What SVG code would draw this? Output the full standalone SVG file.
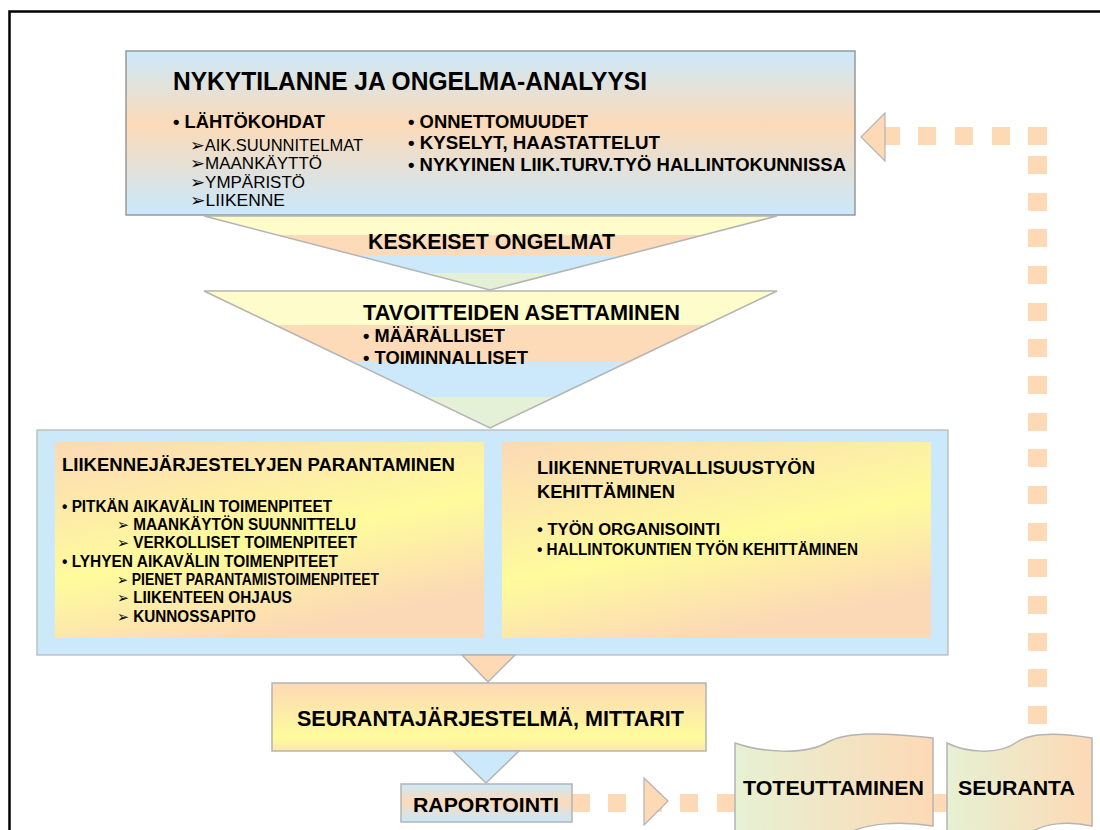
<svg xmlns="http://www.w3.org/2000/svg" width="1100" height="830" viewBox="0 0 1100 830">
<defs>
<style>
.t{font-family:"Liberation Sans",Arial,sans-serif;font-weight:bold;fill:#000}
.r{font-family:"Liberation Sans",Arial,sans-serif;fill:#000}
.ar{font-family:"DejaVu Sans",sans-serif}
.bd{stroke:#b4b4b4;stroke-width:1.5}
.sq{fill:#fdd9b5}
</style>
<linearGradient id="gTop" x1="0" y1="0" x2="0" y2="1">
<stop offset="0" stop-color="#cbe9fb"/><stop offset="0.45" stop-color="#fcdab8"/><stop offset="1" stop-color="#c9e8fc"/>
</linearGradient>
<linearGradient id="gMid" x1="0" y1="0" x2="0.45" y2="1">
<stop offset="0" stop-color="#fcd9b6"/><stop offset="0.6" stop-color="#fefb9c"/><stop offset="1" stop-color="#fcd9b6"/>
</linearGradient>
<linearGradient id="gSeu" x1="0" y1="0" x2="0" y2="1">
<stop offset="0" stop-color="#fcd9b6"/><stop offset="0.8" stop-color="#fefb9c"/><stop offset="1" stop-color="#fde6ac"/>
</linearGradient>
<linearGradient id="gBan" x1="0" y1="0" x2="1" y2="0">
<stop offset="0" stop-color="#e6f1d3"/><stop offset="1" stop-color="#fdd9b5"/>
</linearGradient>
<clipPath id="c1"><polygon points="204,216 777,216 490,290"/></clipPath>
<clipPath id="c2"><polygon points="204,291 777,291 490,428"/></clipPath>
</defs>
<rect width="1100" height="830" fill="#fff"/>
<path d="M9.5,840 V11.5 H1110" fill="none" stroke="#000" stroke-width="2.5"/>

<g id="connectors">
<g class="sq">
<rect x="572" y="794" width="18" height="18"/><rect x="608" y="794" width="18" height="18"/><rect x="644" y="794" width="18" height="18"/><rect x="680" y="794" width="18" height="18"/><rect x="717" y="794" width="18" height="18"/><rect x="930" y="794" width="18" height="18"/>
<rect x="1028" y="156" width="19" height="18"/><rect x="1028" y="193" width="19" height="18"/><rect x="1028" y="229" width="19" height="18"/><rect x="1028" y="266" width="19" height="18"/><rect x="1028" y="303" width="19" height="18"/><rect x="1028" y="339" width="19" height="18"/><rect x="1028" y="376" width="19" height="18"/><rect x="1028" y="413" width="19" height="18"/><rect x="1028" y="449" width="19" height="18"/><rect x="1028" y="486" width="19" height="18"/><rect x="1028" y="523" width="19" height="18"/><rect x="1028" y="559" width="19" height="18"/><rect x="1028" y="596" width="19" height="18"/><rect x="1028" y="633" width="19" height="18"/><rect x="1028" y="669" width="19" height="18"/><rect x="1028" y="706" width="19" height="18"/>
<rect x="1028" y="127" width="19" height="18"/><rect x="992" y="127" width="18" height="18"/><rect x="955" y="127" width="18" height="18"/><rect x="918" y="127" width="18" height="18"/><rect x="882" y="127" width="18" height="18"/>
</g>
<polygon points="644,778 668,801 644,825" fill="#fdd9b5" stroke="#b4b4b4" stroke-width="1.2"/>
<polygon points="885,113 861,137 885,161" fill="#fdd9b5" stroke="#b4b4b4" stroke-width="1.2"/>
</g>

<g id="analyysi">
<rect x="126" y="51" width="729" height="164" fill="url(#gTop)" stroke="#999" stroke-width="1.5"/>
<text class="t" x="173" y="90" font-size="26" textLength="474" lengthAdjust="spacingAndGlyphs">NYKYTILANNE JA ONGELMA-ANALYYSI</text>
<text class="t" x="173" y="128" font-size="19" textLength="152" lengthAdjust="spacingAndGlyphs">• LÄHTÖKOHDAT</text>
<text class="r" x="190" y="151" font-size="16" textLength="173" lengthAdjust="spacingAndGlyphs"><tspan class="ar" font-size="17">➢</tspan>AIK.SUUNNITELMAT</text>
<text class="r" x="190" y="169" font-size="16" textLength="132" lengthAdjust="spacingAndGlyphs"><tspan class="ar" font-size="17">➢</tspan>MAANKÄYTTÖ</text>
<text class="r" x="190" y="188" font-size="16" textLength="115" lengthAdjust="spacingAndGlyphs"><tspan class="ar" font-size="17">➢</tspan>YMPÄRISTÖ</text>
<text class="r" x="190" y="206" font-size="16" textLength="95" lengthAdjust="spacingAndGlyphs"><tspan class="ar" font-size="17">➢</tspan>LIIKENNE</text>
<text class="t" x="408" y="128" font-size="19" textLength="180" lengthAdjust="spacingAndGlyphs">• ONNETTOMUUDET</text>
<text class="t" x="408" y="149" font-size="19" textLength="252" lengthAdjust="spacingAndGlyphs">• KYSELYT, HAASTATTELUT</text>
<text class="t" x="408" y="171" font-size="19" textLength="438" lengthAdjust="spacingAndGlyphs">• NYKYINEN LIIK.TURV.TYÖ HALLINTOKUNNISSA</text>
</g>

<g id="ongelmat">
<g clip-path="url(#c1)">
<rect x="200" y="216" width="580" height="19" fill="#fefccb"/>
<rect x="200" y="235" width="580" height="20" fill="#fddbb8"/>
<rect x="200" y="255" width="580" height="18" fill="#cce9fb"/>
<rect x="200" y="273" width="580" height="18" fill="#e5f1d6"/>
</g>
<polygon points="204,216 777,216 490,290" fill="none" class="bd" stroke-width="1.2"/>
<text class="t" x="368" y="249" font-size="22" textLength="247" lengthAdjust="spacingAndGlyphs">KESKEISET ONGELMAT</text>
</g>

<g id="tavoitteet">
<g clip-path="url(#c2)">
<rect x="200" y="291" width="580" height="34" fill="#fefccb"/>
<rect x="200" y="325" width="580" height="37" fill="#fddbb8"/>
<rect x="200" y="362" width="580" height="35" fill="#cce9fb"/>
<rect x="200" y="397" width="580" height="32" fill="#e5f1d6"/>
</g>
<polygon points="204,291 777,291 490,428" fill="none" class="bd" stroke-width="1.2"/>
<text class="t" x="363" y="320" font-size="22" textLength="317" lengthAdjust="spacingAndGlyphs">TAVOITTEIDEN ASETTAMINEN</text>
<text class="t" x="363" y="342" font-size="19" textLength="142" lengthAdjust="spacingAndGlyphs">• MÄÄRÄLLISET</text>
<text class="t" x="363" y="364" font-size="19" textLength="165" lengthAdjust="spacingAndGlyphs">• TOIMINNALLISET</text>
</g>

<g id="toimenpiteet">
<rect x="37" y="430" width="911" height="225" fill="#cce9fb" stroke="#b4b4b4" stroke-width="1.2"/>
</g>

<g id="parantaminen">
<rect x="55" y="442" width="429" height="196" fill="url(#gMid)"/>
<text class="t" x="62" y="471" font-size="19" textLength="393" lengthAdjust="spacingAndGlyphs">LIIKENNEJÄRJESTELYJEN PARANTAMINEN</text>
<text class="t" x="62" y="512" font-size="16" textLength="270" lengthAdjust="spacingAndGlyphs">• PITKÄN AIKAVÄLIN TOIMENPITEET</text>
<text class="t" x="117" y="530" font-size="16" textLength="239" lengthAdjust="spacingAndGlyphs"><tspan class="ar" font-size="15">➢</tspan> MAANKÄYTÖN SUUNNITTELU</text>
<text class="t" x="117" y="548" font-size="16" textLength="240" lengthAdjust="spacingAndGlyphs"><tspan class="ar" font-size="15">➢</tspan> VERKOLLISET TOIMENPITEET</text>
<text class="t" x="62" y="567" font-size="16" textLength="276" lengthAdjust="spacingAndGlyphs">• LYHYEN AIKAVÄLIN TOIMENPITEET</text>
<text class="t" x="117" y="585" font-size="16" textLength="262" lengthAdjust="spacingAndGlyphs"><tspan class="ar" font-size="15">➢</tspan> PIENET PARANTAMISTOIMENPITEET</text>
<text class="t" x="117" y="603" font-size="16" textLength="175" lengthAdjust="spacingAndGlyphs"><tspan class="ar" font-size="15">➢</tspan> LIIKENTEEN OHJAUS</text>
<text class="t" x="117" y="622" font-size="16" textLength="139" lengthAdjust="spacingAndGlyphs"><tspan class="ar" font-size="15">➢</tspan> KUNNOSSAPITO</text>
</g>

<g id="kehittaminen">
<rect x="502" y="442" width="429" height="196" fill="url(#gMid)"/>
<text class="t" x="537" y="474" font-size="19" textLength="278" lengthAdjust="spacingAndGlyphs">LIIKENNETURVALLISUUSTYÖN</text>
<text class="t" x="537" y="498" font-size="19" textLength="138" lengthAdjust="spacingAndGlyphs">KEHITTÄMINEN</text>
<text class="t" x="537" y="535" font-size="16" textLength="183" lengthAdjust="spacingAndGlyphs">• TYÖN ORGANISOINTI</text>
<text class="t" x="537" y="555" font-size="16" textLength="321" lengthAdjust="spacingAndGlyphs">• HALLINTOKUNTIEN TYÖN KEHITTÄMINEN</text>
</g>

<g id="nuoli1">
<polygon points="462,655 515,655 488,682" fill="#fdd9b5" class="bd" stroke-width="1.2"/>
</g>

<g id="seurantajarjestelma">
<rect x="272" y="683" width="434" height="68" fill="url(#gSeu)" class="bd" stroke-width="1.2"/>
<text class="t" x="297" y="726" font-size="22" textLength="387" lengthAdjust="spacingAndGlyphs">SEURANTAJÄRJESTELMÄ, MITTARIT</text>
</g>

<g id="nuoli2">
<polygon points="453,751 519,751 486,783" fill="#cce9fb" class="bd" stroke-width="1.2"/>
</g>

<g id="raportointi">
<rect x="401" y="784" width="171" height="38" fill="url(#gTop)" class="bd" stroke-width="1.2"/>
<text class="t" x="413" y="812" font-size="21" textLength="146" lengthAdjust="spacingAndGlyphs">RAPORTOINTI</text>
</g>

<g id="toteuttaminen">
<path d="M735,743 C760,752 805,756 828,742 C848,731 885,733 933,738 L933,826 C900,821 868,823 848,833 C822,845 770,840 735,832 Z" fill="url(#gBan)" class="bd" stroke-width="1.2"/>
<text class="t" x="743" y="795" font-size="21" textLength="181" lengthAdjust="spacingAndGlyphs">TOTEUTTAMINEN</text>
</g>

<g id="seuranta">
<path d="M947,743 C965,752 998,756 1017,742 C1032,732 1062,733 1092,738 L1092,826 C1068,821 1044,823 1030,833 C1012,845 975,840 947,832 Z" fill="url(#gBan)" class="bd" stroke-width="1.2"/>
<text class="t" x="958" y="795" font-size="21" textLength="117" lengthAdjust="spacingAndGlyphs">SEURANTA</text>
</g>
</svg>
